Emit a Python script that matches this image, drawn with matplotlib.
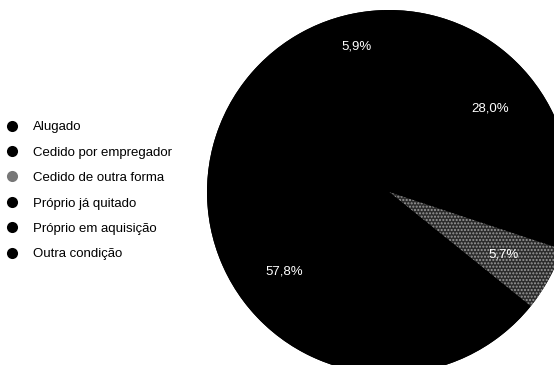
import matplotlib
matplotlib.use("Agg")
import matplotlib.pyplot as plt
from matplotlib.lines import Line2D
from matplotlib.patches import Circle

plt.rcParams['font.family'] = ['Liberation Sans', 'DejaVu Sans']

# condição de ocupação do domicílio (%)
categorias = ['Alugado', 'Cedido por empregador', 'Cedido de outra forma',
              'Próprio já quitado', 'Próprio em aquisição', 'Outra condição']
valores = [28.0, 2.1, 5.7, 57.8, 5.9, 0.5]
cores = ['#000000', '#000000', '#2c2c2c', '#000000', '#000000', '#000000']

W, H = 554, 365
fig = plt.figure(figsize=(W / 100, H / 100), dpi=100)

# pie centre and radius in pixels (the pie runs off the right/bottom edge)
cx, cy, r = 389, 192, 182
ax = fig.add_axes([(cx - r) / W, (H - cy - r) / H, 2 * r / W, 2 * r / H])

# black disc underneath so no white seams show between the wedges
ax.add_patch(Circle((0, 0), 1, facecolor='black', edgecolor='none', zorder=0))


def rotulo(p):
    return f'{p:.1f}%'.replace('.', ',') if p >= 5 else ''


wedges, textos, autotextos = ax.pie(
    valores, colors=cores, startangle=90, counterclock=False,
    autopct=rotulo, pctdistance=0.72, radius=1,
    wedgeprops=dict(linewidth=0),
    textprops=dict(color='white', fontsize=9.5))
ax.set_xlim(-1, 1)
ax.set_ylim(-1, 1)
ax.set_aspect('equal')
ax.axis('off')

# dotted texture on the "Cedido de outra forma" slice
wedges[2].set_hatch('.....')
wedges[2].set_edgecolor('#9a9a9a')

# the small 5,9% label sits a bit further out
x5, y5 = autotextos[4].get_position()
autotextos[4].set_position((x5 * 0.82 / 0.72, y5 * 0.82 / 0.72))

handles = [Line2D([], [], marker='o', linestyle='none', markersize=8,
                  markerfacecolor=c if c == '#000000' else '#777777',
                  markeredgecolor='none')
           for c in cores]
fig.legend(handles, categorias, loc='upper left',
           bbox_to_anchor=(5 / W, 1 - 121 / H), frameon=False,
           fontsize=9.5, handlelength=1.0, handletextpad=1.1,
           labelspacing=1.0, borderaxespad=0, borderpad=0)

fig.savefig('out.png', dpi=100, facecolor='white')
